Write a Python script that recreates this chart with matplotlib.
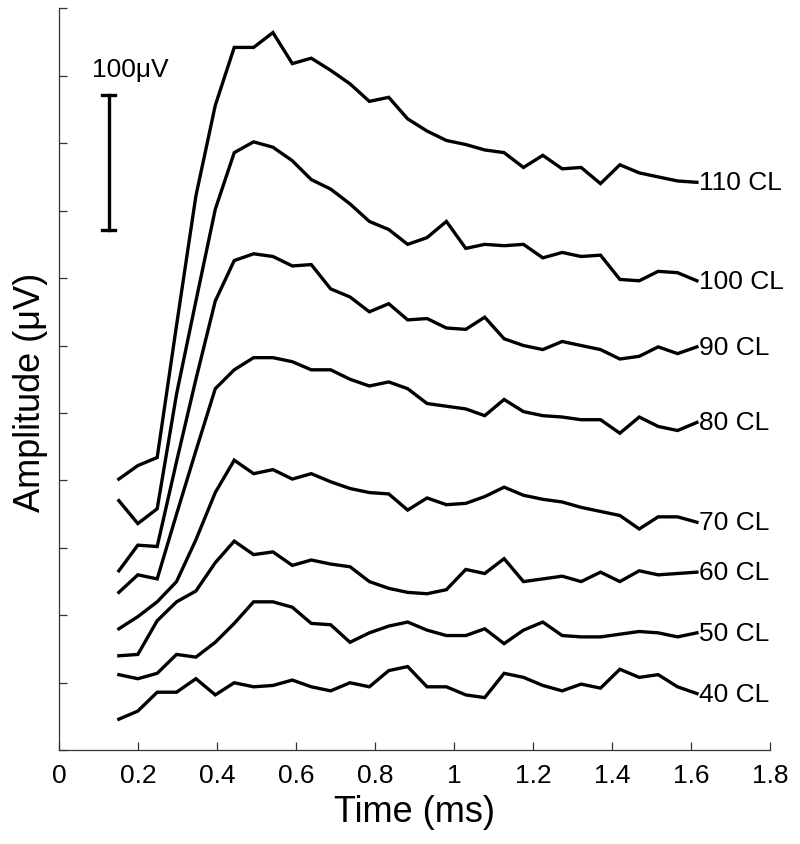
import matplotlib

matplotlib.use("Agg")
import matplotlib.pyplot as plt

# sampling times (ms), shared by every trace
TIME_MS = [0.151, 0.199, 0.248, 0.297, 0.346, 0.395, 0.443, 0.492, 0.541, 0.590,
           0.638, 0.687, 0.736, 0.785, 0.834, 0.882, 0.931, 0.980, 1.029, 1.077,
           1.126, 1.175, 1.224, 1.273, 1.321, 1.370, 1.419, 1.468, 1.516, 1.565,
           1.614]

# amplitudes (uV) with the vertical offsets already applied, one list per level
AMP_40 = [23, 29, 43, 43, 53, 41, 50, 47, 48, 52, 47, 44, 50, 47, 59, 62, 47, 47, 41, 39,
          57, 54, 48, 44, 49, 46, 60, 54, 56, 47, 42]
AMP_50 = [56, 53, 57, 71, 69, 80, 94, 110, 110, 106, 94, 93, 80, 87, 92, 95, 89, 85, 85, 90,
          79, 89, 95, 85, 84, 84, 86, 88, 87, 84, 87]
AMP_60 = [70, 71, 96, 110, 118, 139, 155, 145, 147, 137, 141, 138, 136, 125, 120, 117, 116, 119,
          134, 131, 142, 125, 127, 129, 125, 132, 125, 133, 130, 131, 132]
AMP_70 = [90, 99, 110, 125, 156, 191, 215, 205, 208, 201, 205, 199, 194, 191, 190, 178, 187, 182,
          183, 188, 195, 189, 186, 184, 180, 177, 174, 164, 173, 173, 169]
AMP_80 = [117, 130, 127, 175, 222, 268, 282, 291, 291, 288, 282, 282, 275, 270, 273, 268, 257,
          255, 253, 248, 260, 251, 248, 247, 245, 245, 235, 247, 240, 237, 243]
AMP_90 = [133, 152, 151, 214, 275, 333, 363, 368, 366, 359, 360, 342, 336, 325, 331, 319, 320,
          313, 312, 321, 305, 300, 297, 303, 300, 297, 290, 292, 299, 294, 299]
AMP_100 = [185, 168, 179, 264, 333, 401, 443, 451, 447, 437, 423, 416, 405, 392, 386, 375, 380,
           392, 372, 375, 374, 375, 365, 369, 366, 367, 349, 348, 355, 354, 348]
AMP_110 = [201, 211, 217, 315, 411, 478, 521, 521, 532, 509, 513, 504, 494, 481, 484, 468, 459,
           452, 449, 445, 443, 432, 441, 431, 432, 420, 434, 428, 425, 422, 421]

LEVEL_LABELS = ["40 CL", "50 CL", "60 CL", "70 CL", "80 CL", "90 CL", "100 CL", "110 CL"]

X_TICKS = [0, 0.2, 0.4, 0.6, 0.8, 1, 1.2, 1.4, 1.6, 1.8]
X_TICK_LABELS = ["0", "0.2", "0.4", "0.6", "0.8", "1", "1.2", "1.4", "1.6", "1.8"]
Y_TICKS = [0, 50, 100, 150, 200, 250, 300, 350, 400, 450, 500, 550]

SCALE_BAR_UV = 100


def main() -> None:
    plt.rcParams["font.family"] = ["Liberation Sans", "DejaVu Sans"]

    traces = [AMP_40, AMP_50, AMP_60, AMP_70, AMP_80, AMP_90, AMP_100, AMP_110]

    fig = plt.figure(figsize=(8.0, 8.45), dpi=100)
    ax = fig.add_axes([0.074, 0.111, 0.889, 0.878])

    for amp, label in zip(traces, LEVEL_LABELS):
        ax.plot(TIME_MS, amp, color="black", linewidth=2.4, solid_joinstyle="miter")
        ax.text(TIME_MS[-1] + 0.005, amp[-1], label, fontsize=19, ha="left", va="center")

    # 100 uV scale bar
    bar_t, bar_lo = 0.125, 386
    ax.plot([bar_t, bar_t], [bar_lo, bar_lo + SCALE_BAR_UV], color="black", linewidth=2.4)
    for y in (bar_lo, bar_lo + SCALE_BAR_UV):
        ax.plot([bar_t - 0.017, bar_t + 0.017], [y, y], color="black", linewidth=2.4)
    ax.text(0.083, 505, "100μV", fontsize=19, ha="left", va="center")

    ax.set_xlim(0, 1.8)
    ax.set_ylim(0, 550)
    ax.set_xticks(X_TICKS)
    ax.set_xticklabels(X_TICK_LABELS)
    ax.set_yticks(Y_TICKS)
    ax.set_yticklabels([])

    for side in ("top", "right"):
        ax.spines[side].set_visible(False)
    for side in ("left", "bottom"):
        ax.spines[side].set_linewidth(0.9)
        ax.spines[side].set_color("#333333")

    ax.tick_params(direction="in", length=6, width=0.9, color="#333333", labelsize=19, pad=9)

    ax.set_xlabel("Time (ms)", fontsize=26, va="center")
    ax.xaxis.set_label_coords(0.5, -0.082)
    ax.set_ylabel("Amplitude (μV)", fontsize=26, va="center")
    ax.yaxis.set_label_coords(-0.041, 0.484)

    fig.savefig("out.png", dpi=100)
    plt.close(fig)


if __name__ == "__main__":
    main()
